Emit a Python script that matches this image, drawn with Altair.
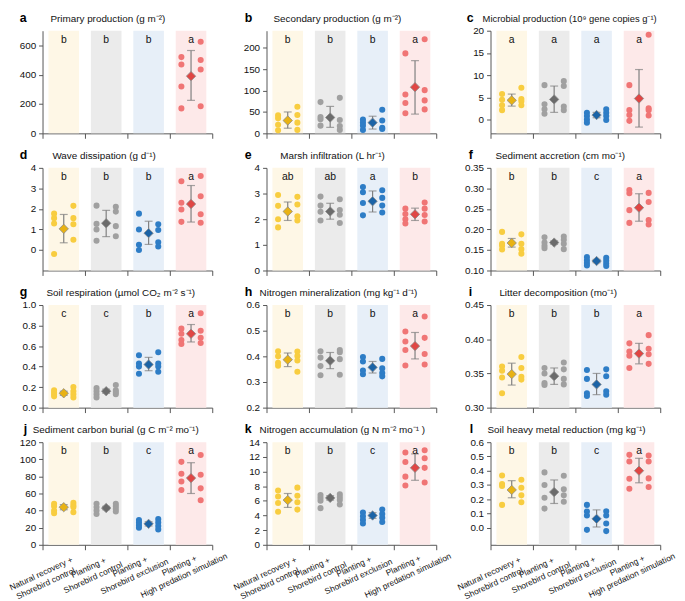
import math
import altair as alt
import pandas as pd

GROUPS = ["Natural recovery +|Shorebird control", "Planting +|Shorebird control",
          "Planting +|Shorebird exclusion", "Planting +|High predation simulation"]
POINT_COLORS = ["#F8CD40", "#A0A0A0", "#2E7DC6", "#F07575"]
MEAN_COLORS = ["#E8B214", "#6B6B6B", "#1B63A6", "#E04644"]
BAND_COLORS = ["#FEF7E6", "#EBEBEB", "#E7EFF8", "#FDE9E9"]

# ---- panel a
A_LEFT = [[], [], [], [520, 470, 320, 170]]
A_RIGHT = [[], [], [], [625, 500, 435, 185]]
A_MEAN = [None, None, None, 390]
A_LO = [None, None, None, 225]
A_HI = [None, None, None, 565]
A_SIG = ["b", "b", "b", "a"]
# ---- panel b
B_LEFT = [[42, 35, 20, 7], [73, 38, 33, 18], [32, 25, 18, 8], [187, 91, 71, 47]]
B_RIGHT = [[62, 43, 25, 8], [83, 31, 17, 8], [55, 30, 13, 10], [220, 101, 77, 56]]
B_MEAN = [30, 37, 25, 108]
B_LO = [12, 14, 10, 45]
B_HI = [50, 63, 40, 170]
B_SIG = ["b", "b", "b", "a"]
# ---- panel c
C_LEFT = [[5.8, 4.5, 3.3, 2.2], [7.8, 3.5, 2.4, 1.4], [1.6, 0.9, 0.1, -0.6], [7.8, 2.2, 1.1, -0.2]]
C_RIGHT = [[7.2, 4.7, 4.2, 3.3], [8.7, 7.6, 3.0, 2.2], [2.4, 1.6, 0.9, 0.0], [19.1, 2.6, 2.2, 1.0]]
C_MEAN = [4.4, 4.6, 1.1, 4.8]
C_LO = [3.1, 1.7, 0.5, -1.6]
C_HI = [5.8, 7.6, 1.7, 11.3]
C_SIG = ["a", "a", "a", "a"]
# ---- panel d
D_LEFT = [[1.77, 1.55, 1.29, -0.2], [2.16, 1.27, 1.0, 0.45], [1.77, 1.0, 0.25, 0.0], [3.35, 2.3, 1.97, 1.37]]
D_RIGHT = [[2.15, 1.55, 1.25, 0.5], [2.1, 1.87, 1.16, 0.67], [1.25, 0.97, 0.37, 0.17], [3.6, 2.62, 1.74, 1.33]]
D_MEAN = [1.03, 1.3, 0.82, 2.24]
D_LO = [0.35, 0.65, 0.27, 1.36]
D_HI = [1.73, 1.93, 1.4, 3.14]
D_SIG = ["b", "b", "b", "a"]
# ---- panel e
E_LEFT = [[2.94, 2.52, 2.0, 1.68], [2.88, 2.53, 2.29, 1.95], [3.25, 3.05, 2.63, 2.15], [2.41, 2.2, 2.0, 1.83]]
E_RIGHT = [[2.87, 2.57, 2.11, 1.95], [2.78, 2.36, 2.17, 1.85], [3.13, 2.83, 2.53, 2.26], [2.65, 2.41, 2.16, 1.91]]
E_MEAN = [2.3, 2.3, 2.7, 2.19]
E_LO = [1.95, 2.0, 2.28, 1.95]
E_HI = [2.67, 2.62, 3.1, 2.43]
E_SIG = ["ab", "ab", "a", "b"]
# ---- panel f
F_LEFT = [[0.194, 0.165, 0.160, 0.151], [0.181, 0.168, 0.160, 0.154], [0.133, 0.125, 0.118, 0.112], [0.296, 0.288, 0.247, 0.216]]
F_RIGHT = [[0.188, 0.165, 0.152, 0.141], [0.183, 0.175, 0.165, 0.152], [0.131, 0.124, 0.117, 0.111], [0.289, 0.267, 0.223, 0.212]]
F_MEAN = [0.167, 0.168, 0.123, 0.253]
F_LO = [0.157, 0.164, 0.119, 0.220]
F_HI = [0.178, 0.172, 0.127, 0.287]
F_SIG = ["b", "b", "c", "a"]
# ---- panel g
G_LEFT = [[0.17, 0.15, 0.13, 0.11], [0.19, 0.16, 0.13, 0.10], [0.51, 0.43, 0.40, 0.33], [0.77, 0.72, 0.66, 0.62]]
G_RIGHT = [[0.20, 0.16, 0.13, 0.10], [0.22, 0.17, 0.15, 0.13], [0.54, 0.43, 0.40, 0.35], [0.92, 0.75, 0.68, 0.63]]
G_MEAN = [0.14, 0.16, 0.42, 0.72]
G_LO = [0.12, 0.14, 0.36, 0.64]
G_HI = [0.16, 0.18, 0.49, 0.81]
G_SIG = ["c", "c", "b", "a"]
# ---- panel h
H_LEFT = [[0.42, 0.40, 0.375, 0.363], [0.42, 0.395, 0.362, 0.326], [0.397, 0.38, 0.345, 0.33], [0.497, 0.458, 0.425, 0.364]]
H_RIGHT = [[0.419, 0.401, 0.384, 0.34], [0.425, 0.416, 0.389, 0.328], [0.39, 0.353, 0.335, 0.322], [0.555, 0.472, 0.409, 0.368]]
H_MEAN = [0.387, 0.383, 0.357, 0.44]
H_LO = [0.36, 0.352, 0.335, 0.39]
H_HI = [0.413, 0.415, 0.38, 0.493]
H_SIG = ["b", "b", "b", "a"]
# ---- panel i
I_LEFT = [[0.36, 0.354, 0.344, 0.321], [0.358, 0.35, 0.336, 0.333], [0.355, 0.342, 0.321, 0.317], [0.394, 0.382, 0.376, 0.358]]
I_RIGHT = [[0.374, 0.358, 0.345, 0.341], [0.366, 0.356, 0.342, 0.334], [0.356, 0.346, 0.324, 0.319], [0.406, 0.386, 0.378, 0.364]]
I_MEAN = [0.349, 0.346, 0.334, 0.379]
I_LO = [0.333, 0.334, 0.319, 0.364]
I_HI = [0.365, 0.358, 0.35, 0.394]
I_SIG = ["b", "b", "b", "a"]
# ---- panel j
J_LEFT = [[48, 45, 40, 37], [48, 44, 40, 36], [29, 26, 23, 20], [97, 83, 74, 64]]
J_RIGHT = [[49, 46, 44, 38], [48, 45, 42, 39], [30, 26, 22, 18], [105, 82, 66, 52]]
J_MEAN = [44, 43, 24.5, 78]
J_LO = [41, 41, 22, 60]
J_HI = [47, 45, 27, 96]
J_SIG = ["b", "b", "c", "a"]
# ---- panel k
K_LEFT = [[7.4, 6.6, 5.7, 4.5], [6.8, 6.4, 6.0, 5.0], [4.4, 3.9, 3.4, 2.9], [12.6, 11.3, 9.3, 8.1]]
K_RIGHT = [[7.8, 6.7, 5.8, 4.8], [6.9, 6.5, 6.1, 5.5], [4.8, 4.2, 3.7, 3.1], [12.9, 11.8, 10.5, 8.5]]
K_MEAN = [6.1, 6.4, 4.0, 10.5]
K_LO = [5.1, 6.1, 3.6, 8.8]
K_HI = [7.0, 6.7, 4.4, 12.4]
K_SIG = ["b", "b", "c", "a"]
# ---- panel l
L_LEFT = [[0.366, 0.307, 0.292, 0.16], [0.388, 0.30, 0.21, 0.134], [0.16, 0.113, 0.085, -0.015], [0.511, 0.465, 0.344, 0.273]]
L_RIGHT = [[0.336, 0.28, 0.227, 0.178], [0.364, 0.27, 0.227, 0.182], [0.115, 0.085, 0.03, -0.024], [0.506, 0.465, 0.346, 0.286]]
L_MEAN = [0.265, 0.25, 0.062, 0.40]
L_LO = [0.21, 0.17, 0.005, 0.315]
L_HI = [0.33, 0.335, 0.125, 0.487]
L_SIG = ["b", "b", "c", "a"]

TITLES = [
    "Primary production (g m⁻²)", "Secondary production (g m⁻²)", "Microbial production (10⁹ gene copies g⁻¹)",
    "Wave dissipation (g d⁻¹)", "Marsh infiltration (L hr⁻¹)", "Sediment accretion (cm mo⁻¹)",
    "Soil respiration (µmol CO₂ m⁻² s⁻¹)", "Nitrogen mineralization (mg kg⁻¹ d⁻¹)", "Litter decomposition (mo⁻¹)",
    "Sediment carbon burial (g C m⁻² mo⁻¹)", "Nitrogen accumulation (g N m⁻² mo⁻¹ )", "Soil heavy metal reduction (mg kg⁻¹)",
]
PANEL_LETTERS = list("abcdefghijkl")
Y_DOMAINS = [[0, 700], [0, 240], [-3, 20], [-1, 4], [0, 4], [0.10, 0.35],
             [0, 1], [0.2, 0.6], [0.30, 0.45], [0, 120], [0, 14], [-0.12, 0.6]]
Y_TICKS = [[0, 200, 400, 600], [0, 50, 100, 150, 200], [0, 5, 10, 15, 20], [0, 1, 2, 3, 4], [0, 1, 2, 3, 4],
           [0.10, 0.15, 0.20, 0.25, 0.30, 0.35], [0.0, 0.2, 0.4, 0.6, 0.8, 1.0], [0.2, 0.3, 0.4, 0.5, 0.6],
           [0.30, 0.35, 0.40, 0.45], [0, 20, 40, 60, 80, 100, 120], [0, 2, 4, 6, 8, 10, 12, 14],
           [0.0, 0.1, 0.2, 0.3, 0.4, 0.5, 0.6]]
Y_FORMATS = ["d", "d", "d", "d", "d", ".2f", ".1f", ".1f", ".2f", "d", "d", ".1f"]
TITLE_X = [8, 7, -8, 10, 14, 5, 4, -7, 9, -10, -7, -3]
TITLE_SIZE = [10, 10, 9.5, 10, 10, 10, 10, 10, 10, 10, 10, 10]
LETTER_X = [-23, -22, -24, -23, -22, -22, -23, -22, -22, -19, -22, -21]
# centre of each rotated category label block, relative to band centre / axis line (px)
LABEL_SHIFT = [(-23, 29), (-18, 23), (-19, 22), (-12, 21)]

PANEL_DATA = [
    (A_LEFT, A_RIGHT, A_MEAN, A_LO, A_HI, A_SIG), (B_LEFT, B_RIGHT, B_MEAN, B_LO, B_HI, B_SIG),
    (C_LEFT, C_RIGHT, C_MEAN, C_LO, C_HI, C_SIG), (D_LEFT, D_RIGHT, D_MEAN, D_LO, D_HI, D_SIG),
    (E_LEFT, E_RIGHT, E_MEAN, E_LO, E_HI, E_SIG), (F_LEFT, F_RIGHT, F_MEAN, F_LO, F_HI, F_SIG),
    (G_LEFT, G_RIGHT, G_MEAN, G_LO, G_HI, G_SIG), (H_LEFT, H_RIGHT, H_MEAN, H_LO, H_HI, H_SIG),
    (I_LEFT, I_RIGHT, I_MEAN, I_LO, I_HI, I_SIG), (J_LEFT, J_RIGHT, J_MEAN, J_LO, J_HI, J_SIG),
    (K_LEFT, K_RIGHT, K_MEAN, K_LO, K_HI, K_SIG), (L_LEFT, L_RIGHT, L_MEAN, L_LO, L_HI, L_SIG),
]

W = 172
H = 104
AXIS_COLOR = "#555555"
ERR_COLOR = "#7F7F7F"
SIDES = ["LL", "L", "M", "R", "RR"]
ANG = 25.0
CA, SA = math.cos(math.radians(ANG)), math.sin(math.radians(ANG))


def make_panel(i):
    left, right, mean, lo, hi, sig = PANEL_DATA[i]
    bottom = i >= 9
    rows = []
    for gi, g in enumerate(GROUPS):
        for v in left[gi]:
            rows.append({"group": g, "side": "L", "value": v, "c": POINT_COLORS[gi]})
        for v in right[gi]:
            rows.append({"group": g, "side": "R", "value": v, "c": POINT_COLORS[gi]})
    pts = pd.DataFrame(rows)
    stats = pd.DataFrame({"group": GROUPS, "mean": mean, "lo": lo, "hi": hi, "sig": sig,
                          "mc": MEAN_COLORS, "bc": BAND_COLORS})
    valid = stats.dropna(subset=["mean"])

    xaxis = alt.Axis(title=None, tickBand="extent", labels=False, tickSize=5,
                     domainColor=AXIS_COLOR, tickColor=AXIS_COLOR)
    xenc = alt.X("group:N", sort=GROUPS,
                 scale=alt.Scale(domain=GROUPS, paddingInner=0, paddingOuter=0), axis=xaxis)
    yscale = alt.Scale(domain=Y_DOMAINS[i], nice=False, zero=False)
    yaxis = alt.Axis(title=None, values=Y_TICKS[i], format=Y_FORMATS[i], grid=False, tickSize=4,
                     labelFontSize=10, labelColor="#111111", domainColor=AXIS_COLOR,
                     tickColor=AXIS_COLOR, labelPadding=3)

    bands = alt.Chart(stats).mark_bar(width=round(0.73 * W / 4), opacity=1).encode(
        x=xenc, y=alt.value(0), y2=alt.value(H), color=alt.Color("bc:N", scale=None))
    points = alt.Chart(pts).mark_circle(size=38, opacity=1).encode(
        x=xenc,
        xOffset=alt.XOffset("side:N", scale=alt.Scale(domain=SIDES, paddingInner=0, paddingOuter=0.2)),
        y=alt.Y("value:Q", scale=yscale, axis=yaxis),
        color=alt.Color("c:N", scale=None))
    err = alt.Chart(valid).mark_rule(color=ERR_COLOR, strokeWidth=1.2).encode(
        x=xenc, y=alt.Y("lo:Q", scale=yscale, axis=yaxis), y2="hi:Q")
    cap_lo = alt.Chart(valid).mark_tick(color=ERR_COLOR, size=8, thickness=1.2).encode(
        x=xenc, y=alt.Y("lo:Q", scale=yscale, axis=yaxis))
    cap_hi = alt.Chart(valid).mark_tick(color=ERR_COLOR, size=8, thickness=1.2).encode(
        x=xenc, y=alt.Y("hi:Q", scale=yscale, axis=yaxis))
    diamond = alt.Chart(valid).mark_point(shape="diamond", filled=True, size=90, opacity=1,
                                          stroke="#8C8C8C", strokeWidth=0.8).encode(
        x=xenc, y=alt.Y("mean:Q", scale=yscale, axis=yaxis), fill=alt.Fill("mc:N", scale=None))
    sigtext = alt.Chart(stats).mark_text(fontSize=10.5, baseline="middle", color="#111111").encode(
        x=xenc, y=alt.value(9), text="sig:N")
    title = alt.Chart(pd.DataFrame({"t": [TITLES[i]]})).mark_text(
        align="left", baseline="middle", fontSize=TITLE_SIZE[i], color="#111111").encode(
        x=alt.value(TITLE_X[i]), y=alt.value(-12), text="t:N")
    letter = alt.Chart(pd.DataFrame({"t": [PANEL_LETTERS[i]]})).mark_text(
        align="left", baseline="middle", fontSize=12.5, fontWeight="bold", color="#000000").encode(
        x=alt.value(LETTER_X[i]), y=alt.value(-13), text="t:N")
    layers = [bands, err, cap_lo, cap_hi, points, diamond, sigtext, title, letter]

    if bottom:
        for gi, g in enumerate(GROUPS):
            ox, oy = LABEL_SHIFT[gi]
            # offsets expressed in the rotated text frame
            dx = CA * ox - SA * oy
            dy = SA * ox + CA * oy
            lab = alt.Chart(pd.DataFrame({"group": [g], "label": [g]})).mark_text(
                angle=360 - ANG, align="center", baseline="middle", lineBreak="|", lineHeight=11,
                fontSize=8.5, color="#111111", dx=dx, dy=dy).encode(
                x=xenc, y=alt.value(H), text="label:N")
            layers.append(lab)

    return alt.layer(*layers).properties(width=W, height=H)


panels = [make_panel(i) for i in range(12)]
chart = alt.concat(*panels, columns=3, spacing={"row": 35, "column": 55}, bounds="flush").properties(
    padding=0).configure(font="Liberation Sans").configure_view(stroke=None)

chart.save("out.html", embed_options={"renderer": "svg", "actions": False})
